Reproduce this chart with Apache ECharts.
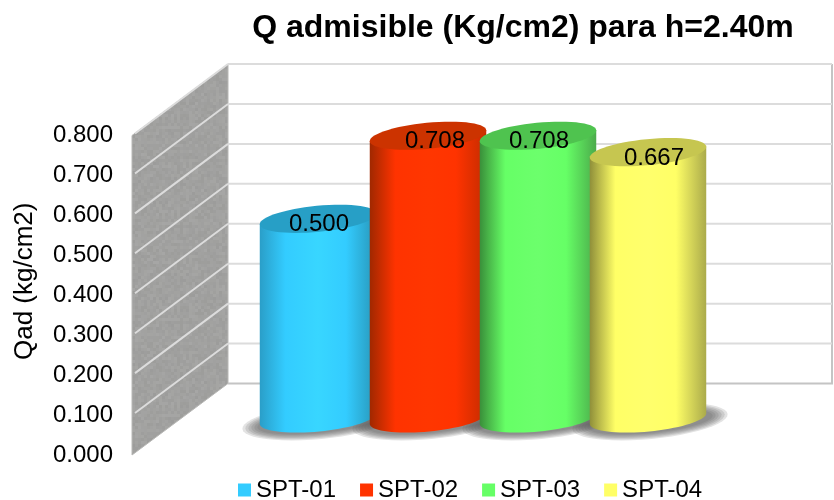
<!DOCTYPE html>
<html>
<head>
<meta charset="utf-8">
<style>html,body{margin:0;padding:0;background:#fff}#c{width:834px;height:500px}</style>
<script src="https://cdn.jsdelivr.net/npm/echarts@6/dist/echarts.min.js"></script>
</head>
<body>
<div id="c"></div>
<script>
const categories = ['SPT-01', 'SPT-02', 'SPT-03', 'SPT-04'];
const values = [0.500, 0.708, 0.708, 0.667];
const tickValues = [0, 0.1, 0.2, 0.3, 0.4, 0.5, 0.6, 0.7, 0.8];
const bodyColors = ['#33ccff', '#ff3300', '#66ff66', '#ffff66'];
const glowColors = ['#38d6ff', '#ff3600', '#6cff6c', '#ffff6c'];
const edgeLeft = ['#2a9ec8', '#a02800', '#3a8f3a', '#8f8f3a'];
const edgeRight = ['#2896b8', '#c42c00', '#4bab4b', '#abab4b'];
const capColors = ['#279fc6', '#cc3300', '#4fc34f', '#c6c650'];
const labelShift = [1, 7, 1, 6];

const FONT = '"Liberation Sans", Arial, sans-serif';
const gridLeft = 263, gridWidth = 440, gridTop = 135.5, gridBottom = 45;
const frontX = 132, wallDX = 96, wallDY = -71.5, wallRight = 832;
const floorDY = -36.5, A = 58.5, B = 13, TILT = -5.5 * Math.PI / 180;

function ellipsePts(cx, cy, a, b, t0, t1, n) {
  const pts = [], c = Math.cos(TILT), s = Math.sin(TILT);
  for (let i = 0; i <= n; i++) {
    const t = t0 + (t1 - t0) * i / n;
    pts.push([cx + a * Math.cos(t) * c - b * Math.sin(t) * s,
              cy + a * Math.cos(t) * s + b * Math.sin(t) * c]);
  }
  return pts;
}

// subtle stone texture for the side wall (fixed hash, purely decorative)
function stone() {
  const cv = document.createElement('canvas');
  cv.width = cv.height = 96;
  const g = cv.getContext('2d');
  g.fillStyle = '#a2a2a0';
  g.fillRect(0, 0, 96, 96);
  for (let y = 0; y < 96; y += 3) for (let x = 0; x < 96; x += 3) {
    const h = Math.abs(Math.sin(x * 12.9898 + y * 78.233) * 43758.5453) % 1;
    const v = Math.round(154 + h * 14);
    g.fillStyle = 'rgba(' + v + ',' + v + ',' + (v - 2) + ',0.7)';
    g.fillRect(x, y, 3, 3);
  }
  return cv;
}
const stonePattern = { image: stone(), repeat: 'repeat' };

function renderWalls(params, api) {
  const y = api.coord([0, api.value(0)])[1];
  const bx = frontX + wallDX, by = y + wallDY;
  const kids = [];
  if (params.dataIndex === 0) {
    const yTop = api.coord([0, tickValues[tickValues.length - 1]])[1];
    kids.push({ type: 'polygon', shape: { points: [[frontX, yTop], [bx, yTop + wallDY], [bx, y + wallDY], [frontX, y]] },
      style: { fill: stonePattern, stroke: '#b8b8b6', lineWidth: 1 } });
    kids.push({ type: 'polyline', shape: { points: [[bx, y + wallDY], [wallRight, y + wallDY], [wallRight, yTop + wallDY]] },
      style: { fill: 'none', stroke: '#c4c4c4', lineWidth: 2 } });
  } else {
    kids.push({ type: 'polyline', shape: { points: [[frontX + 3, y - 2], [bx, by]] },
      style: { fill: 'none', stroke: '#dcdcdc', lineWidth: 2 } });
    kids.push({ type: 'polyline', shape: { points: [[bx, by], [wallRight, by]] },
      style: { fill: 'none', stroke: '#dcdcdc', lineWidth: 2 } });
  }
  return { type: 'group', children: kids };
}

// soft floor shadow: nested translucent ellipses
function renderShadow(params, api) {
  const base = api.coord([api.value(0), 0]);
  const kids = [];
  for (let k = 0; k < 6; k++) {
    kids.push({ type: 'polygon',
      shape: { points: ellipsePts(base[0] + 2, base[1] + floorDY + 3, 78 - k * 3, 17.5 - k * 1.2, 0, Math.PI * 2, 48) },
      style: { fill: 'rgba(90,90,90,0.17)' } });
  }
  return { type: 'group', children: kids };
}

function renderBar(idx) {
  return function (params, api) {
    const top = api.coord([api.value(0), api.value(1)]);
    const base = api.coord([api.value(0), 0]);
    const cx = top[0], ty = top[1] + floorDY, by = base[1] + floorDY;
    const bottomHalf = ellipsePts(cx, by, A, B, 0, Math.PI, 36);
    const tl = ellipsePts(cx, ty, A, B, Math.PI, Math.PI, 1)[0];
    const tr = ellipsePts(cx, ty, A, B, 0, 0, 1)[0];
    const grad = new echarts.graphic.LinearGradient(0, 0, 1, 0, [
      { offset: 0, color: edgeLeft[idx] },
      { offset: 0.22, color: bodyColors[idx] },
      { offset: 0.5, color: glowColors[idx] },
      { offset: 0.74, color: bodyColors[idx] },
      { offset: 1, color: edgeRight[idx] }
    ]);
    return { type: 'group', children: [
      { type: 'polygon', shape: { points: bottomHalf.concat([tl, tr]) }, style: { fill: grad } },
      { type: 'polygon', shape: { points: ellipsePts(cx, ty, A, B, 0, Math.PI * 2, 60) }, style: { fill: capColors[idx] } },
      { type: 'text', x: cx + labelShift[idx], y: ty + 6,
        style: { text: values[idx].toFixed(3), font: '24px ' + FONT, fill: '#000', align: 'center', verticalAlign: 'middle' } }
    ] };
  };
}

const barSeries = categories.map((name, i) => ({
  name, type: 'custom', z: 5 + i, clip: false, color: bodyColors[i],
  encode: { x: 0, y: 1 },
  itemStyle: { color: bodyColors[i] },
  renderItem: renderBar(i),
  data: [[name, values[i]]]
}));

const chart = echarts.init(document.getElementById('c'), null, { renderer: 'canvas' });
chart.setOption({
  animation: false,
  backgroundColor: '#fff',
  textStyle: { fontFamily: FONT },
  title: { text: 'Q admisible (Kg/cm2) para h=2.40m', left: 518, top: 7, textAlign: 'center',
    textStyle: { fontFamily: FONT, fontSize: 32, fontWeight: 'bold', color: '#000' } },
  grid: { left: gridLeft, width: gridWidth, top: gridTop, bottom: gridBottom, containLabel: false, outerBoundsMode: 'none' },
  legend: { data: categories, left: 238, top: 478, itemWidth: 13, itemHeight: 13, itemGap: 24,
    icon: 'rect', selectedMode: false, padding: 0,
    textStyle: { fontFamily: FONT, fontSize: 24, color: '#000' } },
  xAxis: { type: 'category', data: categories, show: false },
  yAxis: { type: 'value', min: 0, max: 0.8, interval: 0.1, offset: gridLeft - frontX,
    name: 'Qad (kg/cm2)', nameLocation: 'middle', nameGap: 94,
    nameTextStyle: { fontFamily: FONT, fontSize: 26, color: '#000', padding: [0, 0, 0, 28] },
    axisLine: { show: false }, axisTick: { show: false }, splitLine: { show: false },
    axisLabel: { formatter: v => v.toFixed(3), fontFamily: FONT, fontSize: 24, color: '#000', margin: 19, padding: [9, 0, 0, 0] } },
  series: [
    { name: 'walls', type: 'custom', z: 1, clip: false, silent: true, encode: { y: 0 },
      renderItem: renderWalls, data: tickValues.map(v => [v]) },
    { name: 'shadow', type: 'custom', z: 2, clip: false, silent: true, encode: { x: 0, y: 1 },
      renderItem: renderShadow, data: categories.map((c, i) => [c, values[i]]) }
  ].concat(barSeries)
});
</script>
</body>
</html>
